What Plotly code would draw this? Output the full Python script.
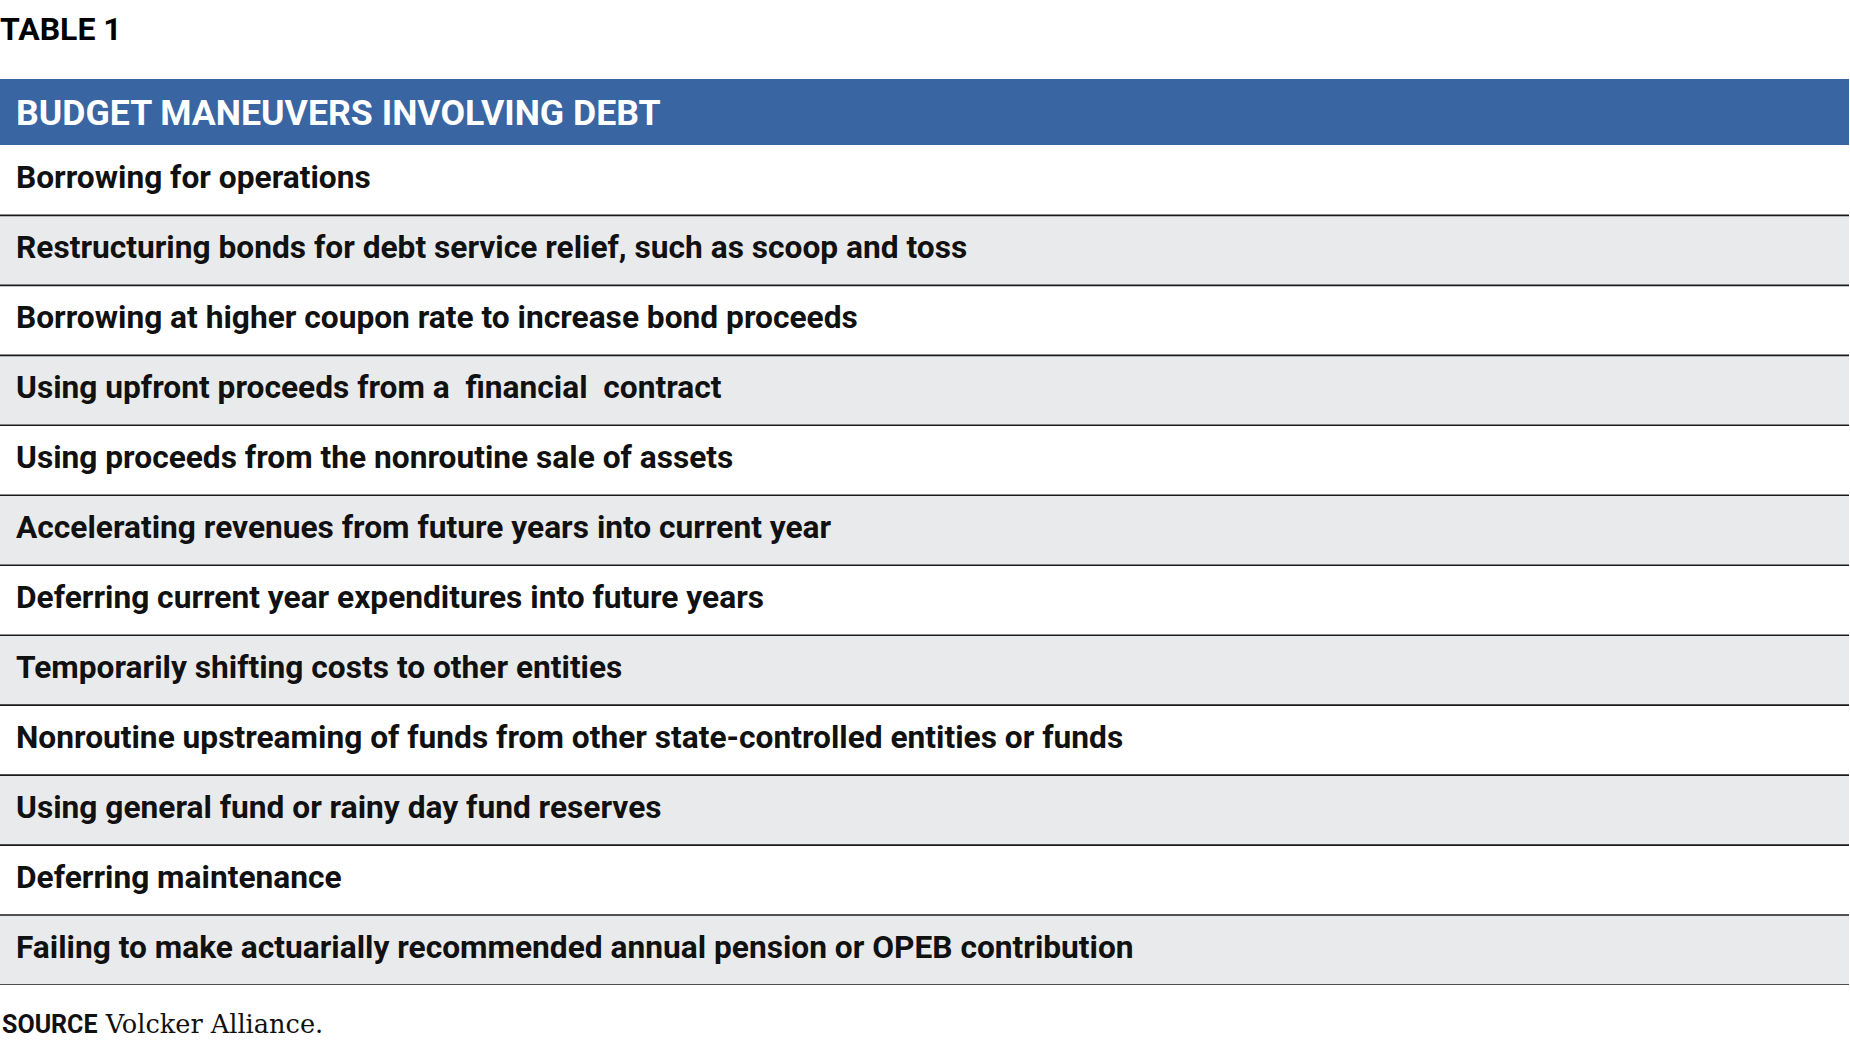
import plotly.graph_objects as go

table_title = "TABLE 1"
header = "BUDGET MANEUVERS INVOLVING DEBT"
rows = [
    "Borrowing for operations",
    "Restructuring bonds for debt service relief, such as scoop and toss",
    "Borrowing at higher coupon rate to increase bond proceeds",
    "Using upfront proceeds from a\u00a0\u00a0financial\u00a0\u00a0contract",
    "Using proceeds from the nonroutine sale of assets",
    "Accelerating revenues from future years into current year",
    "Deferring current year expenditures into future years",
    "Temporarily shifting costs to other entities",
    "Nonroutine upstreaming of funds from other state-controlled entities or funds",
    "Using general fund or rainy day fund reserves",
    "Deferring maintenance",
    "Failing to make actuarially recommended annual pension or OPEB contribution",
]
source_label = "SOURCE"
source_text = "Volcker Alliance."

BLUE = "#3A65A3"
GRAY = "#E9EAEC"
WHITE = "#FFFFFF"
SANS = "Roboto"
SERIF = "DejaVu Serif"

W, H = 1850, 1058
n = len(rows)
ypos = list(range(n + 1))  # 0 = header
fills = [BLUE] + [WHITE if i % 2 == 0 else GRAY for i in range(n)]
pad = 16 / (W - 1)

fig = go.Figure()
# row backgrounds
fig.add_trace(go.Bar(
    y=ypos, x=[1] * (n + 1), base=0, orientation="h", width=1,
    marker=dict(color=fills, line=dict(width=0)),
    hoverinfo="skip", showlegend=False,
))
# row separator lines (below each body row)
lx, ly = [], []
for i in range(1, n + 1):
    lx += [0, 1, None]
    ly += [i + 0.5, i + 0.5, None]
fig.add_trace(go.Scatter(
    x=lx, y=ly, mode="lines", line=dict(color="#1A1A1A", width=1.6),
    hoverinfo="skip", showlegend=False,
))
# header text
fig.add_trace(go.Scatter(
    x=[pad], y=[ypos[0] + 0.08], mode="text", text=[header], textposition="middle right",
    textfont=dict(family=SANS, size=35.7, color="white", weight="bold"),
    hoverinfo="skip", showlegend=False,
))
# body text
fig.add_trace(go.Scatter(
    x=[pad] * n, y=ypos[1:], mode="text", text=rows, textposition="middle right",
    textfont=dict(family=SANS, size=31.7, color="#111111", weight="bold"),
    hoverinfo="skip", showlegend=False,
))

fig.update_layout(
    width=W, height=H,
    margin=dict(l=0, r=1, t=79, b=73, pad=0),
    paper_bgcolor="white", plot_bgcolor="white",
    bargap=0,
    xaxis=dict(range=[0, 1], visible=False, fixedrange=True),
    yaxis=dict(range=[n + 0.5, -0.45], visible=False, fixedrange=True),
    title=dict(
        text=table_title, x=0, xref="container", xanchor="left",
        y=1 - 29 / H, yref="container", yanchor="middle",
        font=dict(family=SANS, size=32, color="#000000", weight="bold"),
    ),
    annotations=[dict(
        text=f"<span style='font-family:{SANS};font-weight:bold;font-size:25px'>{source_label}</span> {source_text}",
        xref="paper", yref="paper", x=0, y=-(1024 - 985) / 906,
        xanchor="left", yanchor="middle", showarrow=False,
        font=dict(family=SERIF, size=25.6, color="#111111"),
    )],
)

fig.write_html("out.html", config={"displayModeBar": False},
               post_script="document.body.style.margin='0';")
